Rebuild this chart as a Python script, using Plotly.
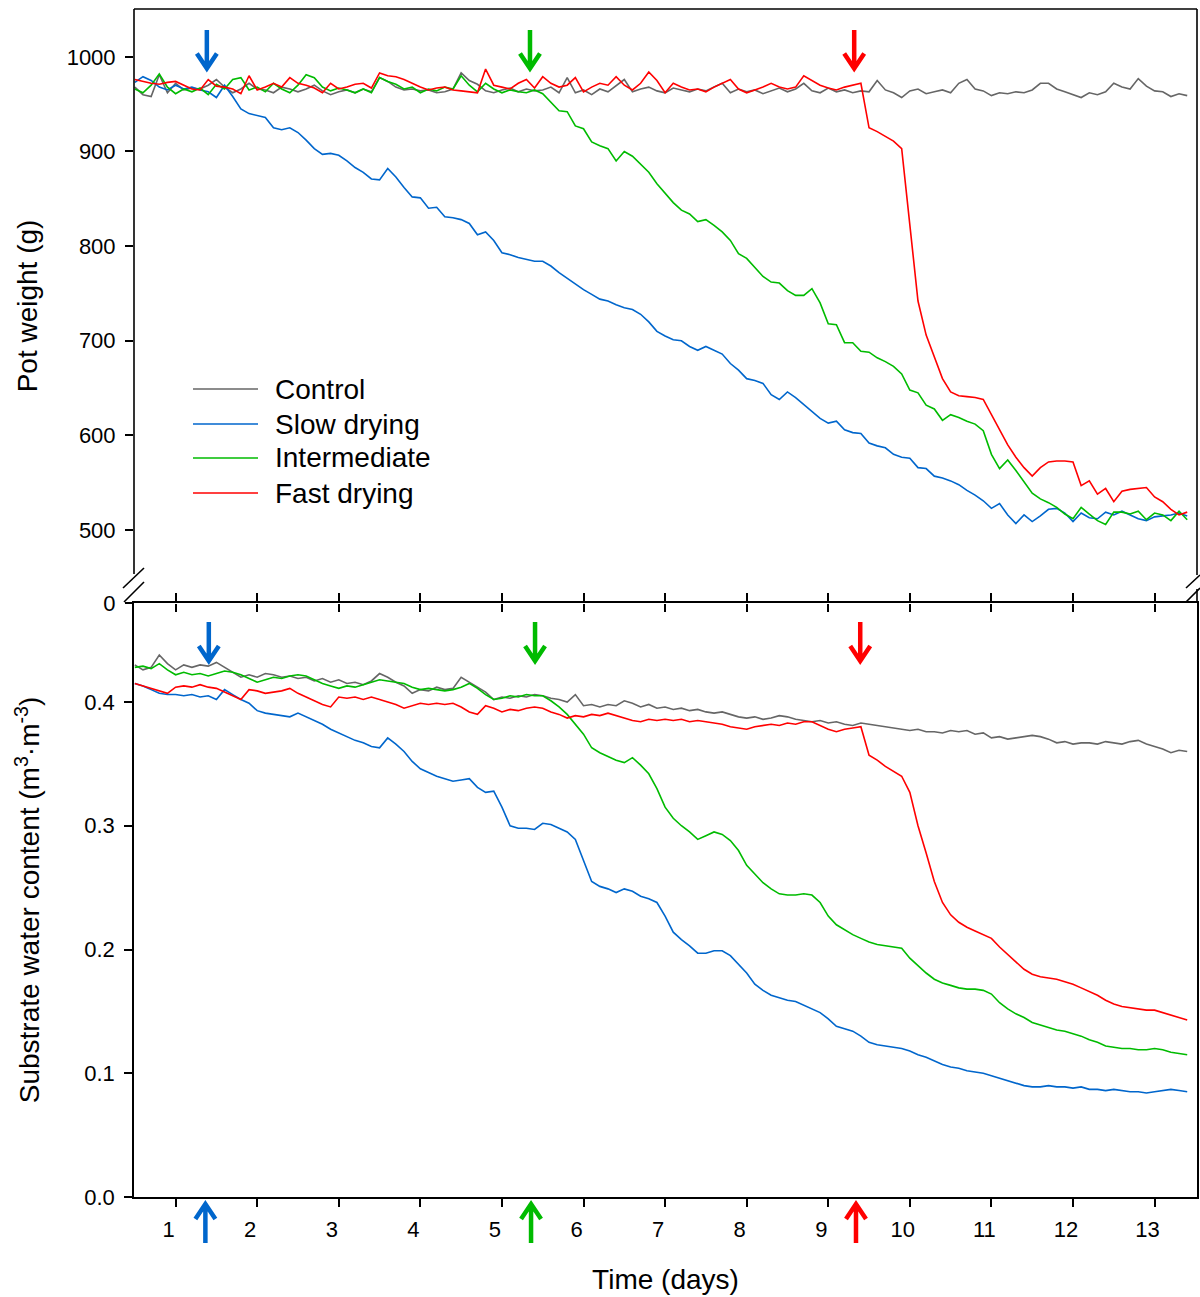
import plotly.graph_objects as go

# ---------------- data ----------------
days = [round(0.5 + 0.1 * i, 1) for i in range(130)]   # sampling times, 0.5 .. 13.4 d

pot_control = [
    968, 960, 958, 981, 962, 972, 965, 967, 966, 970,
    976, 968, 962, 966, 972, 966, 965, 962, 968, 966,
    963, 966, 970, 964, 960, 963, 965, 962, 966, 963,
    978, 974, 968, 965, 966, 964, 965, 962, 963, 966,
    983, 975, 971, 964, 962, 965, 967, 963, 966, 964,
    965, 968, 962, 978, 962, 965, 960, 966, 963, 970,
    976, 963, 966, 968, 964, 962, 967, 965, 963, 966,
    964, 968, 972, 962, 966, 963, 965, 961, 964, 967,
    963, 966, 972, 964, 962, 967, 963, 965, 962, 964,
    963, 975, 965, 962, 957, 964, 966, 961, 963, 965,
    962, 972, 976, 966, 964, 959, 962, 961, 963, 962,
    965, 972, 972, 966, 963, 960, 957, 962, 960, 963,
    972, 968, 966, 977, 969, 964, 963, 958, 961, 959,
]
pot_slow = [
    973, 979, 975, 968, 965, 970, 966, 968, 965, 963,
    957, 970, 958, 945, 940, 938, 936, 925, 923, 925,
    920, 912, 903, 897, 898, 896, 890, 883, 878, 871,
    870, 882, 873, 862, 852, 851, 840, 841, 831, 830,
    828, 824, 812, 815, 806, 793, 791, 788, 786, 784,
    784, 779, 772, 766, 760, 754, 749, 744, 742, 738,
    735, 733, 728, 720, 710, 705, 701, 700, 694, 690,
    694, 690, 686, 676, 669, 660, 658, 655, 643, 638,
    646, 640, 633, 625, 618, 613, 615, 606, 603, 602,
    592, 589, 587, 580, 577, 576, 566, 565, 557, 555,
    552, 548, 542, 537, 531, 523, 528, 516, 507, 516,
    509, 515, 522, 523, 518, 509, 518, 513, 512, 519,
    516, 520, 516, 512, 510, 514, 515, 516, 518, 515,
]
pot_intermediate = [
    966, 962, 970, 982, 968, 961, 966, 963, 967, 960,
    971, 966, 976, 978, 965, 968, 963, 972, 966, 962,
    970, 981, 978, 968, 964, 967, 965, 962, 966, 962,
    978, 974, 971, 966, 968, 962, 966, 964, 968, 966,
    980, 970, 963, 972, 966, 962, 965, 963, 962, 965,
    961, 952, 943, 942, 927, 924, 910, 906, 903, 890,
    900, 895, 886, 878, 866, 856, 846, 838, 834, 826,
    828, 822, 815, 806, 792, 787, 777, 768, 762, 761,
    753, 748, 748, 755, 740, 718, 717, 698, 698, 689,
    688, 682, 678, 673, 665, 648, 645, 632, 628, 616,
    622, 619, 615, 612, 605, 580, 565, 574, 563, 551,
    539, 533, 529, 524, 517, 512, 524, 517, 510, 506,
    519, 519, 517, 520, 511, 518, 516, 510, 520, 511,
]
pot_fast = [
    976, 974, 972, 971, 973, 974, 970, 966, 965, 976,
    969, 968, 966, 961, 980, 965, 968, 972, 968, 978,
    972, 970, 967, 962, 972, 966, 968, 971, 972, 967,
    983, 980, 979, 976, 972, 968, 965, 967, 968, 965,
    964, 963, 962, 987, 970, 968, 966, 972, 976, 967,
    979, 972, 968, 970, 978, 963, 968, 972, 970, 979,
    970, 965, 972, 984, 975, 962, 972, 968, 965, 966,
    963, 968, 972, 976, 966, 962, 965, 968, 972, 968,
    966, 968, 980, 975, 970, 967, 965, 968, 970, 972,
    925, 921, 916, 911, 903, 825, 742, 706, 682, 660,
    646, 642, 641, 640, 638, 622, 605, 590, 577, 566,
    557, 566, 572, 573, 573, 572, 547, 552, 538, 544,
    530, 541, 543, 544, 545, 535, 530, 522, 516, 519,
]

swc_control = [
    0.430, 0.426, 0.428, 0.438, 0.431, 0.426, 0.430, 0.428, 0.430, 0.429,
    0.432, 0.428, 0.424, 0.420, 0.422, 0.420, 0.423, 0.422, 0.420, 0.421,
    0.419, 0.420, 0.417, 0.419, 0.416, 0.418, 0.415, 0.416, 0.414, 0.417,
    0.423, 0.420, 0.416, 0.413, 0.407, 0.410, 0.409, 0.412, 0.410, 0.411,
    0.420, 0.416, 0.412, 0.408, 0.402, 0.404, 0.403, 0.405, 0.404, 0.406,
    0.405, 0.403, 0.402, 0.400, 0.406, 0.397, 0.398, 0.396, 0.398, 0.397,
    0.401, 0.399, 0.396, 0.398, 0.395, 0.396, 0.394, 0.395, 0.393, 0.394,
    0.392, 0.391, 0.392, 0.390, 0.388, 0.387, 0.388, 0.386, 0.387, 0.389,
    0.388, 0.386, 0.385, 0.384, 0.385, 0.383, 0.384, 0.382, 0.381, 0.383,
    0.382, 0.381, 0.380, 0.379, 0.378, 0.377, 0.378, 0.376, 0.376, 0.375,
    0.377, 0.376, 0.377, 0.374, 0.375, 0.371, 0.372, 0.370, 0.371, 0.372,
    0.373, 0.372, 0.370, 0.367, 0.368, 0.366, 0.367, 0.367, 0.366, 0.368,
    0.367, 0.366, 0.368, 0.369, 0.366, 0.364, 0.362, 0.359, 0.361, 0.360,
]
swc_slow = [
    0.415, 0.413, 0.410, 0.407, 0.406, 0.406, 0.405, 0.406, 0.404, 0.405,
    0.402, 0.410, 0.406, 0.402, 0.399, 0.393, 0.391, 0.390, 0.389, 0.388,
    0.391, 0.388, 0.385, 0.382, 0.378, 0.375, 0.372, 0.369, 0.367, 0.364,
    0.363, 0.371, 0.366, 0.360, 0.352, 0.346, 0.343, 0.340, 0.338, 0.336,
    0.337, 0.338, 0.331, 0.327, 0.328, 0.315, 0.300, 0.298, 0.298, 0.297,
    0.302, 0.301, 0.298, 0.295, 0.289, 0.272, 0.255, 0.251, 0.249, 0.246,
    0.249, 0.247, 0.243, 0.241, 0.238, 0.227, 0.214, 0.208, 0.203, 0.197,
    0.197, 0.199, 0.199, 0.195, 0.188, 0.181, 0.172, 0.167, 0.163, 0.161,
    0.159, 0.158, 0.155, 0.152, 0.149, 0.144, 0.138, 0.136, 0.134, 0.130,
    0.125, 0.123, 0.122, 0.121, 0.120, 0.118, 0.115, 0.113, 0.110, 0.107,
    0.105, 0.104, 0.102, 0.101, 0.100, 0.098, 0.096, 0.094, 0.092, 0.090,
    0.089, 0.089, 0.090, 0.089, 0.089, 0.088, 0.089, 0.087, 0.087, 0.086,
    0.087, 0.086, 0.085, 0.085, 0.084, 0.085, 0.086, 0.087, 0.086, 0.085,
]
swc_intermediate = [
    0.428, 0.429, 0.427, 0.431, 0.426, 0.422, 0.424, 0.422, 0.423, 0.421,
    0.423, 0.425, 0.424, 0.422, 0.419, 0.416, 0.418, 0.420, 0.419, 0.421,
    0.422, 0.421, 0.418, 0.415, 0.413, 0.411, 0.413, 0.412, 0.414, 0.416,
    0.418, 0.417, 0.416, 0.415, 0.412, 0.410, 0.411, 0.410, 0.409, 0.410,
    0.412, 0.415, 0.411, 0.406, 0.402, 0.403, 0.405, 0.404, 0.406, 0.405,
    0.405, 0.401, 0.396, 0.390, 0.382, 0.374, 0.363, 0.359, 0.356, 0.353,
    0.351, 0.355, 0.349, 0.342, 0.330, 0.315, 0.306, 0.300, 0.295, 0.289,
    0.292, 0.295, 0.293, 0.288, 0.280, 0.268, 0.261, 0.254, 0.249, 0.245,
    0.244, 0.244, 0.245, 0.244, 0.238, 0.227, 0.220, 0.216, 0.212, 0.209,
    0.206, 0.204, 0.203, 0.202, 0.201, 0.193, 0.187, 0.181, 0.176, 0.173,
    0.171, 0.169, 0.168, 0.168, 0.167, 0.164, 0.157, 0.152, 0.148, 0.145,
    0.141, 0.139, 0.137, 0.135, 0.134, 0.132, 0.130, 0.127, 0.125, 0.122,
    0.121, 0.120, 0.120, 0.119, 0.119, 0.120, 0.119, 0.117, 0.116, 0.115,
]
swc_fast = [
    0.415, 0.413, 0.411, 0.409, 0.407, 0.412, 0.413, 0.412, 0.414, 0.412,
    0.411, 0.408, 0.405, 0.402, 0.410, 0.409, 0.407, 0.408, 0.409, 0.411,
    0.407, 0.404, 0.401, 0.398, 0.396, 0.404, 0.403, 0.404, 0.402, 0.404,
    0.402, 0.400, 0.398, 0.395, 0.397, 0.399, 0.398, 0.399, 0.398, 0.399,
    0.396, 0.392, 0.390, 0.397, 0.395, 0.392, 0.394, 0.393, 0.395, 0.396,
    0.395, 0.392, 0.390, 0.387, 0.389, 0.388, 0.390, 0.389, 0.391, 0.389,
    0.387, 0.385, 0.384, 0.386, 0.385, 0.386, 0.385, 0.386, 0.384, 0.385,
    0.384, 0.383, 0.382, 0.380, 0.379, 0.378, 0.380, 0.381, 0.382, 0.381,
    0.383, 0.382, 0.384, 0.384, 0.381, 0.378, 0.376, 0.378, 0.379, 0.380,
    0.357, 0.353, 0.348, 0.344, 0.340, 0.327, 0.300, 0.278, 0.255, 0.238,
    0.228, 0.222, 0.218, 0.215, 0.212, 0.209, 0.202, 0.196, 0.190, 0.184,
    0.180, 0.178, 0.177, 0.176, 0.174, 0.172, 0.169, 0.166, 0.163, 0.159,
    0.156, 0.154, 0.153, 0.152, 0.151, 0.151, 0.149, 0.147, 0.145, 0.143,
]

series_names = ["Control", "Slow drying", "Intermediate", "Fast drying"]
x_ticks = list(range(1, 14))
pot_ticks = [500, 600, 700, 800, 900, 1000]
swc_ticks = [0.0, 0.1, 0.2, 0.3, 0.4]

# days at which treatments start (arrow marks)
arrow_days_top = [1.383, 5.344, 9.318]
arrow_days_mid = [1.407, 5.406, 9.392]
arrow_days_bottom = [1.365, 5.357, 9.34]

# ---------------- styling ----------------
COLORS = ["#666666", "#0066cc", "#00bb00", "#ff0000"]
FONT = "Liberation Sans, Arial, sans-serif"
W, H = 1200, 1297
ML, MR, MT, MB = 134, 3, 9, 100
X_RANGE = [0.49, 13.52]
POT_RANGE = [423.0, 1050.5]
SWC_RANGE = [0.0, 0.48]
AX_W = 1.6
PW, PH = W - ML - MR, H - MT - MB


def paper(px, py):
    return (px - ML) / PW, (H - MB - py) / PH


def day_px(d):
    return ML + (d - X_RANGE[0]) / (X_RANGE[1] - X_RANGE[0]) * PW


fig = go.Figure()
pots = [pot_control, pot_slow, pot_intermediate, pot_fast]
swcs = [swc_control, swc_slow, swc_intermediate, swc_fast]
for name, ys, col in zip(series_names, pots, COLORS):
    fig.add_trace(go.Scatter(x=days, y=ys, mode="lines", name=name,
                             line=dict(color=col, width=1.6),
                             xaxis="x", yaxis="y", showlegend=False))
for name, ys, col in zip(series_names, swcs, COLORS):
    fig.add_trace(go.Scatter(x=days, y=ys, mode="lines", name=name,
                             line=dict(color=col, width=1.6),
                             xaxis="x2", yaxis="y2", showlegend=False))

common = dict(showgrid=False, zeroline=False, ticks="outside", ticklen=8,
              tickwidth=AX_W, tickcolor="black", linecolor="black",
              linewidth=AX_W, automargin=False)

fig.update_layout(
    width=W, height=H,
    margin=dict(l=ML, r=MR, t=MT, b=MB),
    paper_bgcolor="white", plot_bgcolor="white",
    font=dict(family=FONT, size=22, color="black"),
    showlegend=False,
    xaxis=dict(domain=[0, 1], anchor="y", range=X_RANGE, tickvals=x_ticks,
               showticklabels=False, showline=False, **common),
    yaxis=dict(domain=[0.5, 1], anchor="x", range=POT_RANGE,
               tickvals=[POT_RANGE[0]] + pot_ticks,
               ticktext=["0"] + [str(v) for v in pot_ticks],
               showline=False, ticklabelstandoff=5,
               title=dict(text="Pot weight (g)", font=dict(size=28), standoff=20),
               **common),
    xaxis2=dict(domain=[0, 1], anchor="y2", range=X_RANGE, tickvals=x_ticks,
                showline=True, mirror="ticks", ticklabelshift=-7,
                ticklabelstandoff=4,
                title=dict(text="Time (days)", font=dict(size=28), standoff=28),
                **common),
    yaxis2=dict(domain=[0, 0.5], anchor="x2", range=SWC_RANGE,
                tickvals=swc_ticks, tickformat=".1f",
                showline=True, mirror=True, ticklabelstandoff=5,
                title=dict(text="Substrate water content (m<sup>3</sup>·m<sup>-3</sup>)",
                           font=dict(size=28), standoff=36),
                **common),
)

shapes = []


def seg(p0, p1, color="black", width=AX_W):
    x0, y0 = paper(*p0)
    x1, y1 = paper(*p1)
    shapes.append(dict(type="line", xref="paper", yref="paper",
                       x0=x0, y0=y0, x1=x1, y1=y1,
                       line=dict(color=color, width=width)))


# top-panel frame with the axis-break gap
top_px, mid_px = MT, MT + PH / 2
seg((ML, top_px), (ML + PW, top_px))
seg((ML, top_px), (ML, 574))
seg((ML + PW, top_px), (ML + PW, 575))
seg((ML + PW, 589), (ML + PW, mid_px))
# break marks
seg((123, 588), (144, 568))
seg((124, 602), (144, 582))
seg((1186, 588), (1200, 575))
seg((1186, 602), (1200, 588))


def arrow(d, y_tip, y_tail, color):
    px = day_px(d)
    dy = 15 if y_tail > y_tip else -15
    pts = [(px, y_tail), (px, y_tip), (px - 10, y_tip + dy), (px, y_tip), (px + 10, y_tip + dy)]
    pp = [paper(*p) for p in pts]
    path = "M{:.5f},{:.5f} L{:.5f},{:.5f} M{:.5f},{:.5f} L{:.5f},{:.5f} L{:.5f},{:.5f}".format(
        pp[0][0], pp[0][1], pp[1][0], pp[1][1], pp[2][0], pp[2][1],
        pp[3][0], pp[3][1], pp[4][0], pp[4][1])
    shapes.append(dict(type="path", xref="paper", yref="paper", path=path,
                       line=dict(color=color, width=4.5)))


arrow_cols = [COLORS[1], COLORS[2], COLORS[3]]
for d, c in zip(arrow_days_top, arrow_cols):
    arrow(d, 68.5, 30, c)
for d, c in zip(arrow_days_mid, arrow_cols):
    arrow(d, 661, 622, c)
for d, c in zip(arrow_days_bottom, arrow_cols):
    arrow(d, 1204, 1243, c)

# legend (drawn by hand: long line samples as in the reference)
annotations = []
leg_y = [389, 424, 458, 493]
for name, col, ly in zip(series_names, COLORS, leg_y):
    seg((193, ly), (258, ly), color=col, width=1.6)
    ax_, ay_ = paper(273, ly)
    annotations.append(dict(x=ax_, y=ay_, xref="paper", yref="paper", text=name,
                            showarrow=False, xanchor="left", yanchor="middle",
                            font=dict(size=28, family=FONT, color="black")))

fig.update_layout(shapes=shapes, annotations=annotations)
fig.write_html("out.html", config={"displayModeBar": False},
               post_script="document.body.style.margin='0px';")
